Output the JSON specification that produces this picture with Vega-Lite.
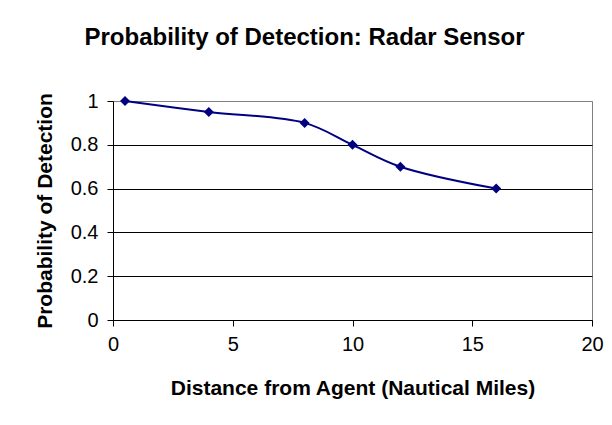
{
  "$schema": "https://vega.github.io/schema/vega-lite/v6.json",
  "width": 479,
  "height": 219,
  "autosize": "none",
  "padding": {"left": 113, "top": 101, "right": 20, "bottom": 105},
  "background": "white",
  "title": {
    "text": "Probability of Detection: Radar Sensor",
    "font": "Liberation Sans",
    "fontSize": 24,
    "fontWeight": "bold",
    "color": "black",
    "anchor": "middle",
    "dx": -48,
    "offset": 41
  },
  "config": {
    "view": {"stroke": "#808080", "strokeWidth": 1},
    "axis": {
      "labelFont": "Liberation Sans",
      "labelFontSize": 20,
      "labelColor": "black",
      "titleFont": "Liberation Sans",
      "titleFontSize": 21,
      "titleFontWeight": "bold",
      "titleColor": "black",
      "domainColor": "black",
      "tickColor": "black",
      "tickSize": 6
    }
  },
  "data": {
    "values": [
      {"distance": 0.5, "prob": 1.0},
      {"distance": 4, "prob": 0.95},
      {"distance": 8, "prob": 0.9},
      {"distance": 10, "prob": 0.8},
      {"distance": 12, "prob": 0.7},
      {"distance": 16, "prob": 0.6}
    ]
  },
  "encoding": {
    "x": {
      "field": "distance",
      "type": "quantitative",
      "scale": {"domain": [0, 20], "nice": false, "zero": true},
      "axis": {
        "title": "Distance from Agent (Nautical Miles)",
        "values": [0, 5, 10, 15, 20],
        "grid": false,
        "labelPadding": 8,
        "titlePadding": 23,
        "labelFlush": false
      }
    },
    "y": {
      "field": "prob",
      "type": "quantitative",
      "scale": {"domain": [0, 1], "nice": false},
      "axis": {
        "title": "Probability of Detection",
        "values": [0, 0.2, 0.4, 0.6, 0.8, 1],
        "format": "~g",
        "grid": true,
        "gridColor": {"condition": {"test": "datum.value === 1", "value": "#808080"}, "value": "black"},
        "gridOpacity": 1,
        "labelPadding": 9,
        "titlePadding": 15,
        "labelFlush": false
      }
    }
  },
  "layer": [
    {
      "mark": {"type": "line", "color": "#000080", "strokeWidth": 2, "interpolate": "catmull-rom"}
    },
    {
      "mark": {"type": "point", "shape": "diamond", "filled": true, "color": "#000080", "size": 100, "opacity": 1}
    }
  ]
}
